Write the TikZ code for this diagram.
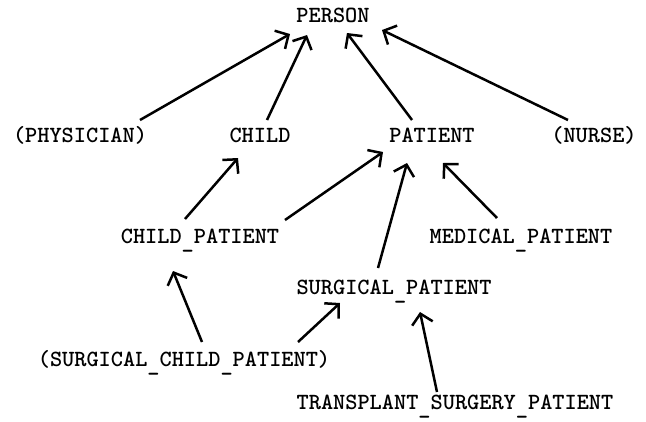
\documentclass[tikz,border=0pt]{standalone}
\usetikzlibrary{arrows.meta}
\newcommand\usc{\raisebox{-5pt}{\_}}
\begin{document}
\begin{tikzpicture}[x=1pt,y=-1pt,
  lbl/.style={font=\fontsize{23.2}{24}\selectfont\ttfamily\bfseries, inner sep=0pt, text height=14pt, text depth=0pt},
  arr/.style={line width=2.5pt, -{Straight Barb[length=10pt,width=21pt,line width=2.5pt]}}]
\useasboundingbox (0,0) rectangle (646,421);
\node[lbl] (person) at (333,15) {PERSON};
\node[lbl] (physician) at (80,135) {(PHYSICIAN)};
\node[lbl] (child) at (260,135) {CHILD};
\node[lbl] (patient) at (432,135) {PATIENT};
\node[lbl] (nurse) at (594,135) {(NURSE)};
\node[lbl] (childpat) at (200,236) {CHILD\usc PATIENT};
\node[lbl] (medical) at (521,236) {MEDICAL\usc PATIENT};
\node[lbl] (surgical) at (394,287) {SURGICAL\usc PATIENT};
\node[lbl] (scp) at (184,359) {(SURGICAL\usc CHILD\usc PATIENT)};
\node[lbl] (transplant) at (455,402) {TRANSPLANT\usc SURGERY\usc PATIENT};
\draw[arr] ([shift={(60,-15)}]physician.center) -- ([shift={(-43,19)}]person.center);
\draw[arr] ([shift={(7,-15)}]child.center) -- ([shift={(-26,20)}]person.center);
\draw[arr] ([shift={(-20,-15)}]patient.center) -- ([shift={(14,18)}]person.center);
\draw[arr] ([shift={(-26,-15)}]nurse.center) -- ([shift={(49,15)}]person.center);
\draw[arr] ([shift={(-15,-17)}]childpat.center) -- ([shift={(-22,23)}]child.center);
\draw[arr] ([shift={(85,-16)}]childpat.center) -- ([shift={(-49,17)}]patient.center);
\draw[arr] ([shift={(-16,-19)}]surgical.center) -- ([shift={(-25,28)}]patient.center);
\draw[arr] ([shift={(-24,-18)}]medical.center) -- ([shift={(11,28)}]patient.center);
\draw[arr] ([shift={(18,-17)}]scp.center) -- ([shift={(-27,35)}]childpat.center);
\draw[arr] ([shift={(114,-17)}]scp.center) -- ([shift={(-54,16)}]surgical.center);
\draw[arr] ([shift={(-18,-10)}]transplant.center) -- ([shift={(26,25)}]surgical.center);
\end{tikzpicture}
\end{document}
